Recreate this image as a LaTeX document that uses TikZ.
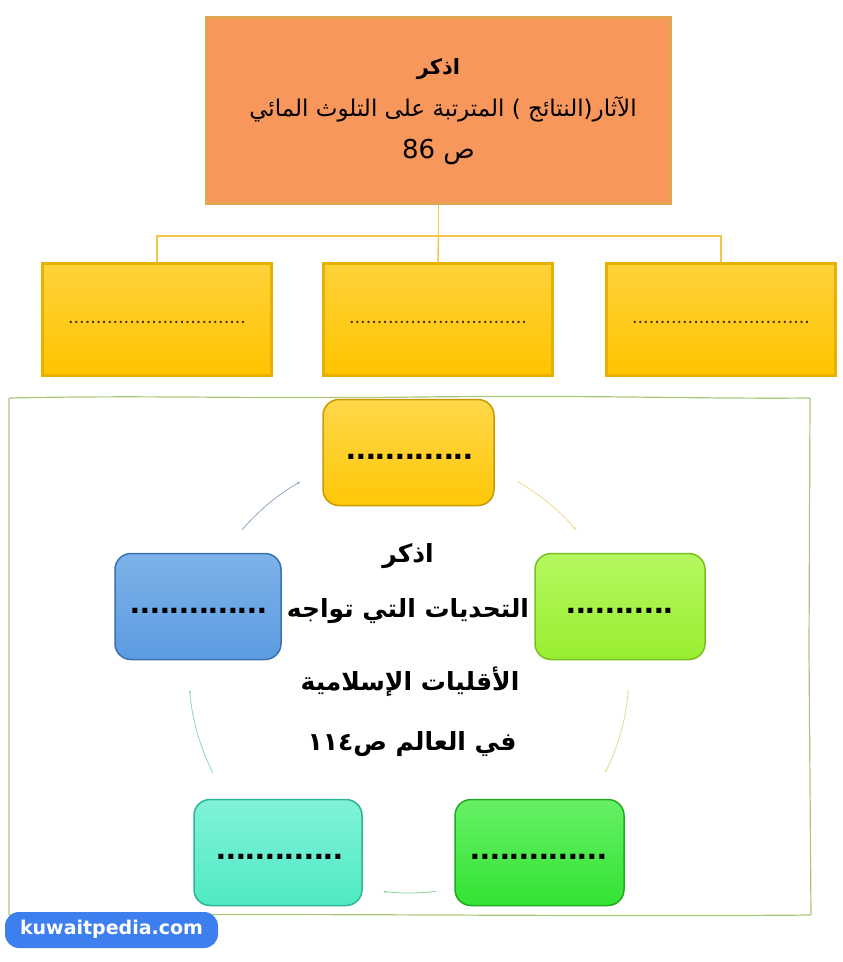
\documentclass[tikz,border=0pt]{standalone}
\usepackage{fontspec}
\setmainfont{Liberation Sans}
\newfontfamily\arabicfont[Script=Arabic]{DejaVu Sans}
\newfontfamily\wmfont{DejaVu Sans}
\TeXXeTstate=1
\usetikzlibrary{arrows.meta,calc}
\definecolor{orangebox}{HTML}{F7975C}
\definecolor{orangeedge}{HTML}{E3A552}
\definecolor{goldtop}{HTML}{FFD23A}
\definecolor{goldbot}{HTML}{FFC400}
\definecolor{goldedge}{HTML}{E8B000}
\definecolor{connc}{HTML}{F0C64A}
\definecolor{framegreen}{HTML}{A8C878}
\definecolor{cyY}{HTML}{FFC708}
\definecolor{cyYt}{HTML}{FFD84A}
\definecolor{cyYe}{HTML}{C99A00}
\definecolor{cyL}{HTML}{99EE30}
\definecolor{cyLt}{HTML}{B4F860}
\definecolor{cyLe}{HTML}{78C020}
\definecolor{cyG}{HTML}{33E333}
\definecolor{cyGt}{HTML}{66F066}
\definecolor{cyGe}{HTML}{22A822}
\definecolor{cyA}{HTML}{50EAC4}
\definecolor{cyAt}{HTML}{80F2D8}
\definecolor{cyAe}{HTML}{2EB496}
\definecolor{cyB}{HTML}{5B9BE0}
\definecolor{cyBt}{HTML}{7EB2EA}
\definecolor{cyBe}{HTML}{3C6FAE}
\definecolor{wmblue}{HTML}{3E7FF0}
\definecolor{dotc}{HTML}{4A2A00}
\tikzset{
  topbox/.style={draw=orangeedge, line width=3pt, fill=orangebox, minimum width=464pt, minimum height=186pt, inner sep=0pt},
  goldbox/.style={draw=goldedge, line width=2.5pt, top color=goldtop, bottom color=goldbot, minimum width=229pt, minimum height=112pt, inner sep=0pt},
  conn/.style={draw=connc, line width=1.5pt},
  cyclebox/.style={rounded corners=16pt, line width=1.5pt, minimum height=106pt, inner sep=0pt},
  smalldots/.style={font=\fontsize{20}{22}\selectfont, text=dotc},
  bigdots/.style={font=\fontsize{35}{37}\selectfont\bfseries, text=black},
  arabtxt/.style={font=\arabicfont\fontsize{23}{26}\selectfont, text=black},
  midtxt/.style={font=\arabicfont\bfseries\fontsize{25}{28}\selectfont, text=black},
  cyarrow/.style={line width=0.8pt, -{Stealth[length=3pt,width=2.5pt]}}
}
\begin{document}
\begin{tikzpicture}[x=1pt,y=-1pt]
\useasboundingbox (0,0) rectangle (843,962);
\fill[white] (0,0) rectangle (843,962);

% top box
\node[topbox] (top) at (438.5,110.5) {};
\node[arabtxt, font=\arabicfont\bfseries\fontsize{21}{24}\selectfont] (t1) at (438.5,69) {\beginR اذكر\endR};
\node[arabtxt] (t2) at (443,109) {\beginR الآثار(النتائج ) المترتبة على التلوث المائي\endR};
\node[arabtxt, font=\arabicfont\fontsize{26}{28}\selectfont] (t3) at (438.5,152) {\beginR ص \beginL 86\endL\endR};

% gold boxes
\node[goldbox] (b1) at (157,319.5) {};
\node[goldbox] (b2) at (438,319.5) {};
\node[goldbox] (b3) at (721,319.5) {};
\node[smalldots] (d1) at (157,322) {................................};
\node[smalldots] (d2) at (438,322) {................................};
\node[smalldots] (d3) at (721,322) {................................};

\coordinate (j) at (438.5,236);
\draw[conn] (top.south) -- (j);
\draw[conn] (j) -| (b1.north);
\draw[conn] (j) -| (b3.north);
\draw[conn] (j) -- (b2.north);

% green frame
\draw[framegreen, line width=1.2pt, rounded corners=1pt]
  (9,398) .. controls (150,395) and (250,399) .. (420,397)
  .. controls (600,395) and (700,399) .. (810,398)
  -- (809,650) -- (811,915)
  .. controls (600,917) and (300,913) .. (9,915) -- cycle;

% cycle boxes
\node[cyclebox, draw=cyYe, top color=cyYt, bottom color=cyY, minimum width=171pt] (cy1) at (408.5,452.5) {};
\node[cyclebox, draw=cyLe, top color=cyLt, bottom color=cyL, minimum width=170pt] (cy2) at (620,606.5) {};
\node[cyclebox, draw=cyGe, top color=cyGt, bottom color=cyG, minimum width=169pt] (cy3) at (539.5,852.5) {};
\node[cyclebox, draw=cyAe, top color=cyAt, bottom color=cyA, minimum width=168pt] (cy4) at (278,852.5) {};
\node[cyclebox, draw=cyBe, top color=cyBt, bottom color=cyB, minimum width=166pt] (cy5) at (198,606.5) {};
\node[bigdots] (e1) at (410,457) {.............};
\node[bigdots] (e2) at (620,611) {...........};
\node[bigdots] (e3) at (539,857) {..............};
\node[bigdots] (e4) at (280,857) {.............};
\node[bigdots] (e5) at (199,611) {..............};

% cycle arrows
\coordinate (c) at (409,673);
\coordinate (a1) at ($(c)+(60.5:220pt)$);
\coordinate (a2) at ($(c)+(-4.4:220pt)$);
\coordinate (a3) at ($(c)+(-83:220pt)$);
\coordinate (a4) at ($(c)+(-153:220pt)$);
\coordinate (a5) at ($(c)+(139.4:220pt)$);
\draw[cyarrow, draw={rgb,255:red,240;green,216;blue,140}] (a1) arc[start angle=60.5, end angle=40.6, radius=220pt];
\draw[cyarrow, draw={rgb,255:red,200;green,232;blue,140}] (a2) arc[start angle=-4.4, end angle=-26.8, radius=220pt];
\draw[cyarrow, draw={rgb,255:red,136;green,208;blue,152}] (a3) arc[start angle=-83, end angle=-96.7, radius=220pt];
\draw[cyarrow, draw={rgb,255:red,136;green,216;blue,200}] (a4) arc[start angle=-153, end angle=-175.6, radius=220pt];
\draw[cyarrow, draw={rgb,255:red,144;green,168;blue,200}] (a5) arc[start angle=139.4, end angle=119.7, radius=220pt];

% centre text
\node[midtxt] (m1) at (408,556) {\beginR اذكر\endR};
\node[midtxt] (m2) at (408,611) {\beginR التحديات التي تواجه\endR};
\node[midtxt] (m3) at (410,682) {\beginR الأقليات الإسلامية\endR};
\node[midtxt] (m4) at (412,744) {\beginR في العالم ص\beginL ١١٤\endL\endR};

% watermark
\path[fill=wmblue, rounded corners=14pt] (5,912) -- (218,912) -- (218,948) -- (5,948) -- cycle;
\node[font=\wmfont\bfseries\fontsize{19}{21}\selectfont, text=white] (wm) at (111.5,929) {kuwaitpedia.com};
\end{tikzpicture}
\end{document}
